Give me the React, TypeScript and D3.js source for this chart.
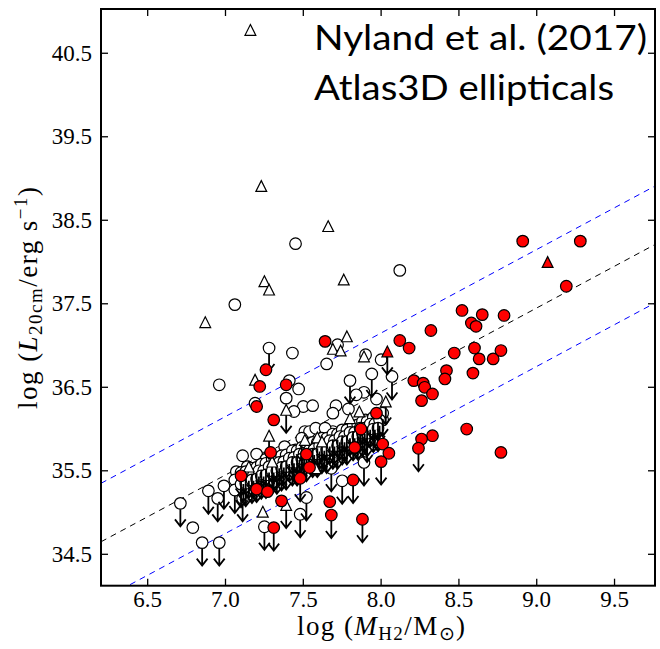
import React from 'react';
import * as d3 from 'd3';

const W = 660;
const H = 649;

const xTicks = [6.5, 7.0, 7.5, 8.0, 8.5, 9.0, 9.5];
const yTicks = [34.5, 35.5, 36.5, 37.5, 38.5, 39.5, 40.5];

// [log M_H2, log L_20cm, upper limit flag]
const openCircles: [number, number, number][] = [
  [7.06, 37.49, 0], [7.45, 38.22, 0], [8.12, 37.90, 0], [7.43, 36.91, 0], [7.65, 36.78, 0],
  [7.72, 37.01, 0], [7.90, 36.89, 0], [8.00, 36.83, 0], [6.96, 36.53, 0], [7.41, 36.58, 0],
  [7.47, 36.48, 0], [7.39, 36.37, 0], [7.19, 36.31, 0], [7.50, 36.27, 0], [7.56, 36.28, 0],
  [7.44, 36.21, 0], [7.89, 36.44, 0], [7.84, 36.41, 0], [7.97, 36.36, 0], [7.71, 36.28, 0],
  [7.79, 36.24, 0], [8.01, 36.11, 0], [7.90, 36.11, 0], [7.69, 36.19, 0], [7.77, 35.97, 0],
  [7.62, 35.99, 0], [7.51, 35.97, 0], [7.69, 35.97, 0], [7.54, 35.97, 0], [7.58, 36.01, 0],
  [7.64, 36.01, 0], [7.38, 35.79, 0], [7.45, 35.75, 0], [7.39, 35.59, 0], [7.46, 35.57, 0],
  [7.11, 35.68, 0], [7.20, 35.70, 0], [7.26, 35.64, 0], [7.07, 35.49, 0], [7.22, 35.43, 0],
  [7.28, 35.39, 0], [7.35, 35.55, 0], [7.30, 35.59, 0], [7.14, 35.55, 0], [7.12, 35.43, 0],
  [7.06, 35.39, 0], [6.79, 34.82, 0],
  [7.28, 36.97, 1], [6.71, 35.11, 1], [6.85, 34.64, 1], [6.96, 34.64, 1], [6.89, 35.26, 1],
  [6.95, 35.17, 1], [6.99, 35.32, 1], [7.06, 35.27, 1], [7.11, 35.17, 1], [7.25, 34.83, 1],
  [7.48, 34.98, 1], [7.52, 35.18, 1], [7.68, 35.53, 1], [7.75, 35.38, 1], [7.89, 35.60, 1],
  [7.94, 36.66, 1], [8.07, 36.63, 1], [7.80, 36.58, 1], [7.49, 35.89, 1], [7.91, 35.88, 1],
  // dense band of upper limits (estimated; individual points not resolvable)
  [7.10, 35.48, 1], [7.13, 35.49, 1], [7.17, 35.53, 1], [7.20, 35.54, 1], [7.23, 35.58, 1],
  [7.26, 35.59, 1], [7.30, 35.64, 1], [7.33, 35.64, 1], [7.36, 35.68, 1], [7.39, 35.69, 1],
  [7.43, 35.74, 1], [7.46, 35.74, 1], [7.49, 35.78, 1], [7.52, 35.79, 1], [7.56, 35.84, 1],
  [7.59, 35.84, 1], [7.62, 35.89, 1], [7.65, 35.89, 1], [7.69, 35.94, 1], [7.72, 35.94, 1],
  [7.75, 35.99, 1], [7.78, 35.99, 1], [7.82, 36.04, 1], [7.85, 36.05, 1], [7.88, 36.09, 1],
  [7.91, 36.09, 1], [7.95, 36.14, 1], [7.98, 36.15, 1], [8.01, 36.19, 1],
  [7.115, 35.41, 1], [7.15, 35.45, 1], [7.18, 35.45, 1], [7.215, 35.50, 1], [7.245, 35.50, 1],
  [7.28, 35.55, 1], [7.31, 35.55, 1], [7.345, 35.60, 1], [7.375, 35.61, 1], [7.41, 35.65, 1],
  [7.44, 35.66, 1], [7.475, 35.70, 1], [7.505, 35.71, 1], [7.54, 35.75, 1], [7.57, 35.76, 1],
  [7.605, 35.80, 1], [7.635, 35.81, 1], [7.67, 35.86, 1], [7.70, 35.86, 1], [7.735, 35.91, 1],
  [7.765, 35.91, 1], [7.80, 35.96, 1], [7.83, 35.96, 1], [7.865, 36.01, 1], [7.895, 36.01, 1],
  [7.93, 36.06, 1], [7.96, 36.06, 1], [7.99, 36.11, 1],
  [7.10, 35.34, 1], [7.13, 35.35, 1], [7.17, 35.39, 1], [7.20, 35.40, 1], [7.23, 35.44, 1],
  [7.26, 35.45, 1], [7.30, 35.50, 1], [7.33, 35.50, 1], [7.36, 35.54, 1], [7.39, 35.55, 1],
  [7.43, 35.60, 1], [7.46, 35.60, 1], [7.49, 35.64, 1], [7.52, 35.65, 1], [7.56, 35.70, 1],
  [7.59, 35.70, 1], [7.62, 35.75, 1], [7.65, 35.75, 1], [7.69, 35.80, 1], [7.72, 35.80, 1],
  [7.75, 35.85, 1], [7.78, 35.85, 1], [7.82, 35.90, 1], [7.85, 35.91, 1], [7.88, 35.95, 1],
  [7.91, 35.95, 1], [7.95, 36.00, 1], [7.98, 36.01, 1],
];

const openTriangles: [number, number, number][] = [
  [7.16, 40.78, 0], [7.23, 38.91, 0], [7.66, 38.43, 0], [7.25, 37.77, 0], [7.28, 37.67, 0],
  [6.87, 37.28, 0], [7.76, 37.79, 0], [7.78, 37.11, 0], [7.69, 36.96, 0], [7.74, 36.94, 0],
  [7.89, 36.87, 0], [7.19, 36.59, 0], [7.86, 36.21, 0], [7.80, 36.13, 0], [7.59, 35.90, 0],
  [7.51, 35.87, 0], [7.58, 35.53, 0], [7.15, 35.55, 0], [7.24, 35.01, 0], [7.30, 35.61, 0],
  [7.62, 35.85, 0],
  [8.03, 36.33, 1], [7.39, 36.23, 1], [7.28, 35.92, 1], [7.39, 35.09, 1],
];

const redCircles: [number, number, number][] = [
  [7.64, 37.05, 0], [7.26, 36.71, 0], [7.22, 36.51, 0], [7.39, 36.53, 0], [7.20, 36.27, 0],
  [7.31, 36.11, 0], [7.29, 35.72, 0], [7.10, 35.44, 0], [7.20, 35.28, 0], [7.27, 35.25, 0],
  [7.36, 35.14, 0], [7.31, 34.82, 1], [7.52, 35.70, 0], [7.54, 35.54, 0], [7.48, 35.41, 1],
  [7.67, 35.13, 0], [7.68, 34.97, 1], [7.88, 34.92, 1], [7.82, 35.39, 1], [7.83, 35.78, 0],
  [7.87, 36.00, 0], [7.97, 36.19, 0], [8.01, 35.82, 0], [8.05, 35.71, 0], [8.00, 35.61, 1],
  [8.12, 37.06, 0], [8.18, 36.97, 0], [8.47, 36.91, 0], [8.60, 36.97, 0], [8.63, 36.84, 0],
  [8.72, 36.84, 0], [8.77, 36.94, 0], [8.59, 36.67, 0], [8.42, 36.70, 0], [8.41, 36.60, 0],
  [8.21, 36.58, 0], [8.27, 36.55, 0], [8.28, 36.50, 0], [8.33, 36.42, 0], [8.26, 36.34, 0],
  [8.55, 36.00, 0], [8.33, 35.92, 0], [8.26, 35.88, 0], [8.24, 35.77, 1], [8.77, 35.72, 0],
  [8.52, 37.42, 0], [8.65, 37.37, 0], [8.79, 37.36, 0], [8.58, 37.27, 0], [8.61, 37.23, 0],
  [8.32, 37.18, 0], [8.91, 38.25, 0], [9.28, 38.25, 0], [9.19, 37.71, 0],
];

const redTriangles: [number, number, number][] = [
  [9.07, 38.00, 0], [8.04, 36.93, 1],
];

// relation: log L = slope * log M + intercept, with +/- scatter band
const relationSlope = 1.0;
const relationIntercept = 28.45;
const relationScatter = 0.7;

const titleLines = ['Nyland et al. (2017)', 'Atlas3D ellipticals'];

const PL = 101, PR = 655, PT = 9, PB = 585.7;
const R = 5.8;
const TRI = 5.4;
const ARROW = 23;

const x = d3.scaleLinear().domain([6.2, 9.76]).range([PL, PR]);
const y = d3.scaleLinear().domain([34.124, 41.03]).range([PB, PT]);

function arrowPath(cx: number, cy: number, start: number) {
  const tip = cy + ARROW;
  return `M${cx},${cy + start}L${cx},${tip}M${cx - 5.4},${tip - 7}L${cx},${tip}L${cx + 5.4},${tip - 7}`;
}

function triPath(cx: number, cy: number) {
  return `M${cx},${cy - TRI}L${cx + TRI},${cy + TRI}L${cx - TRI},${cy + TRI}Z`;
}

const serif = '"Liberation Serif", "Times New Roman", serif';

export default function App() {
  const line = (off: number) => {
    const xs = x.domain();
    return d3.line<number>()
      .x((d) => x(d))
      .y((d) => y(relationSlope * d + relationIntercept + off))(xs) as string;
  };

  const arrows = (data: [number, number, number][], start: number, key: string) =>
    data.filter((d) => d[2] === 1).map((d, i) => (
      <path key={key + i} d={arrowPath(x(d[0]), y(d[1]), start)} fill="none" stroke="#000" strokeWidth={1.8} />
    ));

  return (
    <svg width={W} height={H} style={{ position: 'absolute', left: 0, top: 0, background: '#fff' }}
      xmlns="http://www.w3.org/2000/svg">
      <defs>
        <clipPath id="plotclip">
          <rect x={PL} y={PT} width={PR - PL} height={PB - PT} />
        </clipPath>
      </defs>
      <rect x={0} y={0} width={W} height={H} fill="#fff" />
      <g clipPath="url(#plotclip)">
        <path d={line(0)} fill="none" stroke="#000" strokeWidth={1} strokeDasharray="6,5" />
        <path d={line(relationScatter)} fill="none" stroke="#0000ff" strokeWidth={1} strokeDasharray="6,5" />
        <path d={line(-relationScatter)} fill="none" stroke="#0000ff" strokeWidth={1} strokeDasharray="6,5" />

        {openCircles.map((d, i) => (
          <circle key={'oc' + i} cx={x(d[0])} cy={y(d[1])} r={R} fill="#fff" stroke="#000" strokeWidth={1.2} />
        ))}
        {arrows(openCircles, R, 'oca')}
        {openTriangles.map((d, i) => (
          <path key={'ot' + i} d={triPath(x(d[0]), y(d[1]))} fill="#fff" stroke="#000" strokeWidth={1.2} />
        ))}
        {arrows(openTriangles, TRI, 'ota')}
        {redCircles.map((d, i) => (
          <circle key={'rc' + i} cx={x(d[0])} cy={y(d[1])} r={R} fill="#ff0000" stroke="#000" strokeWidth={1.2} />
        ))}
        {arrows(redCircles, R, 'rca')}
        {redTriangles.map((d, i) => (
          <path key={'rt' + i} d={triPath(x(d[0]), y(d[1]))} fill="#ff0000" stroke="#000" strokeWidth={1.2} />
        ))}
        {arrows(redTriangles, TRI, 'rta')}
      </g>

      {/* frame */}
      <rect x={PL} y={PT} width={PR - PL} height={PB - PT} fill="none" stroke="#000" strokeWidth={2} />
      {xTicks.map((t) => (
        <g key={'xt' + t}>
          <line x1={x(t)} x2={x(t)} y1={PB} y2={PB - 7} stroke="#000" strokeWidth={1.3} />
          <line x1={x(t)} x2={x(t)} y1={PT} y2={PT + 7} stroke="#000" strokeWidth={1.3} />
          <text x={x(t)} y={607} textAnchor="middle" fontFamily={serif} fontSize={23}>{t.toFixed(1)}</text>
        </g>
      ))}
      {yTicks.map((t) => (
        <g key={'yt' + t}>
          <line x1={PL} x2={PL + 7} y1={y(t)} y2={y(t)} stroke="#000" strokeWidth={1.3} />
          <line x1={PR} x2={PR - 7} y1={y(t)} y2={y(t)} stroke="#000" strokeWidth={1.3} />
          <text x={92} y={y(t) + 7.5} textAnchor="end" fontFamily={serif} fontSize={23}>{t.toFixed(1)}</text>
        </g>
      ))}

      {/* x label */}
      <text x={381} y={635} textAnchor="middle" fontFamily={serif} fontSize={27} textLength={168}
        lengthAdjust="spacing">
        <tspan>log (</tspan>
        <tspan fontStyle="italic">M</tspan>
        <tspan fontSize={19} dy={5}>H2</tspan>
        <tspan dy={-5}>/M</tspan>
        <tspan fontSize={19} dy={5}>⊙</tspan>
        <tspan dy={-5}>)</tspan>
      </text>

      {/* y label */}
      <text transform="translate(37,298) rotate(-90)" textAnchor="middle" fontFamily={serif} fontSize={27}
        textLength={222} lengthAdjust="spacing">
        <tspan>log (</tspan>
        <tspan fontStyle="italic">L</tspan>
        <tspan fontSize={19} dy={5}>20cm</tspan>
        <tspan dy={-5}>/erg s</tspan>
        <tspan fontSize={19} dy={-10}>−1</tspan>
        <tspan dy={10}>)</tspan>
      </text>

      {/* title */}
      <text x={314} y={50} fontFamily="Lato, 'Open Sans', sans-serif" fontSize={35} textLength={333}
        lengthAdjust="spacingAndGlyphs">{titleLines[0]}</text>
      <text x={314} y={100} fontFamily="Lato, 'Open Sans', sans-serif" fontSize={35} textLength={300}
        lengthAdjust="spacingAndGlyphs">{titleLines[1]}</text>
    </svg>
  );
}
